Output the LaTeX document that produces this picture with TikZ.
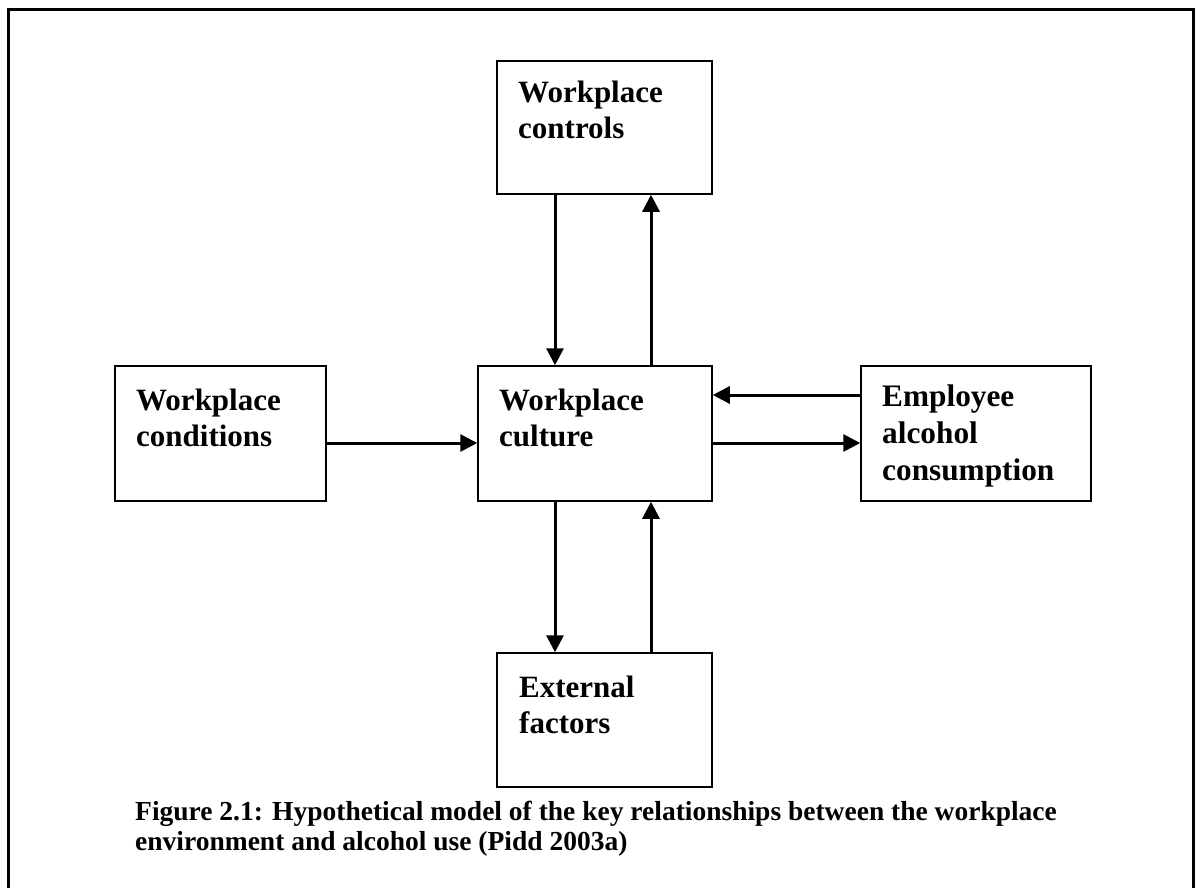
\documentclass[tikz,border=0pt]{standalone}
\usepackage{fontspec}
\newfontfamily\tnr{Liberation Serif}
\usetikzlibrary{arrows.meta}
\newcommand\stack[2]{\vtop{\baselineskip=#1\lineskiplimit=-100pt\lineskip=0pt\halign{##\hfil\cr#2\crcr}}}
\tikzset{
  box/.style={draw, line width=1.5pt, minimum width=#1, inner sep=0pt},
  lbl/.style={anchor=base west, inner sep=0pt, font=\fontsize{31}{36}\tnr\bfseries},
  tlbl/.style={anchor=base west, inner sep=0pt, font=\fontsize{31.3}{37}\tnr\bfseries},
  arr/.style={line width=3pt, -{Triangle[length=17pt,width=17pt]}},
  frame/.style={line width=3pt}
}
\begin{document}
\begin{tikzpicture}[x=1pt,y=-1pt]
\useasboundingbox (0,0) rectangle (1200,888);
\fill[white] (0,0) rectangle (1200,888);
\coordinate (fbl) at (8.5,888);
\coordinate (ftl) at (8.5,9.5);
\coordinate (ftr) at (1193,9.5);
\coordinate (fbr) at (1193,888);
\draw[frame] (fbl) -- (ftl) -- (ftr) -- (fbr);

\node[box=215pt, minimum height=133pt] (ctl) at (604.5,127.5) {};
\node[box=211pt, minimum height=135pt] (cond) at (220.5,433.5) {};
\node[box=234pt, minimum height=135pt] (cul) at (595,433.5) {};
\node[box=230pt, minimum height=135pt] (emp) at (976,433.5) {};
\node[box=215pt, minimum height=134pt] (ext) at (604.5,720) {};

\node[lbl] (ctlT) at (518,103) {\stack{36pt}{Workplace\cr controls}};
\node[lbl] (condT) at (136,410) {\stack{36pt}{Workplace\cr conditions}};
\node[lbl] (culT) at (499,410) {\stack{36pt}{Workplace\cr culture}};
\node[lbl] (extT) at (519,697) {\stack{36pt}{External\cr factors}};
\node[tlbl] (empT) at (882,406) {\stack{37pt}{Employee\cr alcohol\cr consumption}};

\draw[arr] ([xshift=-49.5pt]ctl.south) -- ([xshift=-49.5pt]ctl.south |- cul.north);
\draw[arr] ([xshift=46.5pt]ctl.south |- cul.north) -- ([xshift=46.5pt]ctl.south);
\draw[arr] ([yshift=-9.5pt]cond.east) -- ([yshift=-9.5pt]cond.east -| cul.west);
\draw[arr] ([yshift=38.5pt]emp.west) -- ([yshift=38.5pt]emp.west -| cul.east);
\draw[arr] ([yshift=-9.5pt]emp.west -| cul.east) -- ([yshift=-9.5pt]emp.west);
\draw[arr] ([xshift=-49.5pt]ext.north |- cul.south) -- ([xshift=-49.5pt]ext.north);
\draw[arr] ([xshift=46.5pt]ext.north) -- ([xshift=46.5pt]ext.north |- cul.south);

\node[anchor=base west, inner sep=0pt, font=\fontsize{27.5}{30}\tnr\bfseries] (cap) at (135,820)
  {\stack{30pt}{Figure 2.1: Hypothetical model of the key relationships between the workplace\cr
   environment and alcohol use (Pidd 2003a)}};
\end{tikzpicture}
\end{document}
